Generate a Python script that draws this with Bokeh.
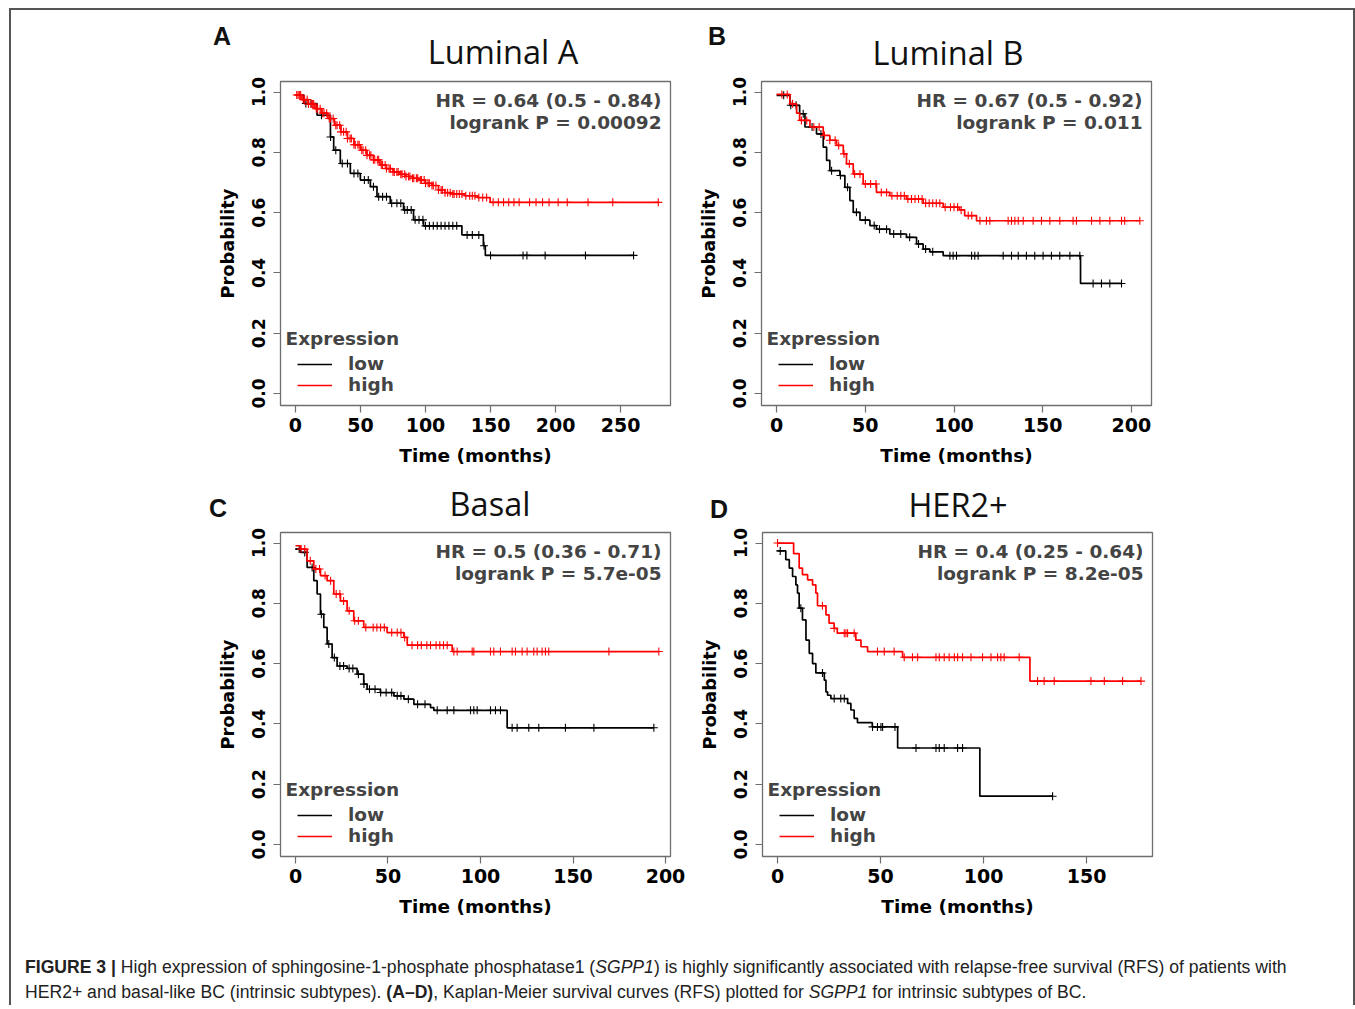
import numpy as np
from bokeh.plotting import figure
from bokeh.models import Legend, LegendItem, Range1d, Div, FixedTicker, PrintfTickFormatter, Label
from bokeh.layouts import column, row
from bokeh.embed import file_html
from bokeh.resources import INLINE

# ---------------- data ----------------
titles = ["Luminal A", "Luminal B", "Basal", "HER2+"]
letters = ["A", "B", "C", "D"]
hr_texts = ["HR = 0.64 (0.5 - 0.84)", "HR = 0.67 (0.5 - 0.92)",
            "HR = 0.5 (0.36 - 0.71)", "HR = 0.4 (0.25 - 0.64)"]
p_texts = ["logrank P = 0.00092", "logrank P = 0.011",
           "logrank P = 5.7e-05", "logrank P = 8.2e-05"]
x_ticks_A = [0, 50, 100, 150, 200, 250]
x_ticks_B = [0, 50, 100, 150, 200]
x_ticks_C = [0, 50, 100, 150, 200]
x_ticks_D = [0, 50, 100, 150]
y_ticks = [0.0, 0.2, 0.4, 0.6, 0.8, 1.0]
legend_title = "Expression"
legend_labels = ["low", "high"]

# Panel A (Luminal A)
a_low_t = [0, 6.4, 16.6, 26.9, 29.4, 34.5, 42.2, 49.9, 57.6, 62.7, 72.9, 83.1, 90.8, 98.5, 128, 144.5, 146]
a_low_s = [0.99, 0.962, 0.923, 0.851, 0.807, 0.763, 0.730, 0.708, 0.686, 0.653, 0.631, 0.609, 0.576, 0.556, 0.526, 0.49, 0.458]
a_low_c = [8, 12, 20, 27, 31, 36, 40, 45, 48, 53, 56, 60, 64, 67, 70, 74, 78, 81, 84, 86, 89, 92, 95,
           98, 100, 103, 106, 109, 112, 115, 118, 121, 124, 132, 136, 141, 145, 150, 175, 178, 192, 223, 260]
a_high_t = [0, 5, 10, 15, 20, 25, 30, 35, 40, 45, 50, 55, 60, 65, 70, 75, 80, 85, 90, 95, 100, 105,
            110, 115, 120, 130, 140, 149.7]
a_high_s = [0.99, 0.975, 0.96, 0.945, 0.93, 0.912, 0.89, 0.868, 0.846, 0.825, 0.807, 0.79, 0.775,
            0.758, 0.746, 0.735, 0.727, 0.72, 0.714, 0.708, 0.697, 0.69, 0.675, 0.666, 0.662, 0.656,
            0.65, 0.634]
a_high_c = [1, 2, 3, 4, 6, 7, 9, 10, 12, 13, 14, 16, 17, 19, 21, 22, 24, 26, 27, 29, 31, 32, 34, 35, 37,
            39, 40, 42, 43, 45, 46, 48, 49, 51, 52, 54, 55, 57, 58, 60, 61, 63, 64, 66, 67, 69, 70, 72,
            73, 75, 76, 78, 79, 81, 82, 84, 85, 87, 88, 90, 91, 93, 94, 96, 97, 99, 100, 102, 103, 105,
            106, 108, 110, 112, 113, 115, 117, 119, 121, 122, 124, 126, 128, 131, 134, 136, 138, 141,
            144, 147, 152, 156, 160, 164, 168, 172, 180, 185, 190, 195, 202, 209, 225, 244, 279]

# Panel B (Luminal B)
b_low_t = [0, 7.5, 13, 16, 22.5, 26.3, 28.2, 30, 35.7, 38.5, 41.3, 43.2, 47, 52.6, 56.3, 63.8, 73.2,
           78.9, 82.6, 86.4, 93.9, 171.3]
b_low_s = [0.989, 0.956, 0.928, 0.884, 0.861, 0.817, 0.773, 0.739, 0.723, 0.684, 0.64, 0.601, 0.575,
           0.557, 0.545, 0.529, 0.518, 0.496, 0.479, 0.47, 0.457, 0.365]
b_low_c = [4, 8, 11, 15, 20, 25, 31, 36, 40, 45, 50, 55, 58, 62, 66, 70, 75, 80, 84, 88, 97.7, 99.5,
           101.4, 109.9, 111.7, 113.6, 127.7, 132.4, 136.2, 140.8, 145.5, 150.2, 154.9, 159.6, 165.3,
           170.9, 178.4, 183.1, 187.8, 194.4]
b_high_t = [0, 7.5, 11.3, 13, 18.8, 26.3, 30, 33.8, 37.6, 39.4, 43.2, 48.8, 56.3, 63.8, 73.2, 82.6,
            93.9, 103, 106, 112.7]
b_high_s = [0.992, 0.961, 0.93, 0.906, 0.884, 0.856, 0.84, 0.823, 0.795, 0.762, 0.728, 0.695, 0.667,
            0.656, 0.645, 0.631, 0.618, 0.609, 0.59, 0.573]
b_high_c = [3, 6, 9, 14, 17, 21, 24, 27, 30, 33, 35, 38, 41, 44, 47, 50, 53, 56, 59, 62, 65, 68, 70, 72,
            74, 76, 78, 80, 82, 84, 86, 88, 90, 92, 95, 98, 100, 102, 104, 108, 110, 114.6, 118.3,
            120.2, 130.5, 132.4, 134.3, 136.2, 139, 144.6, 149.3, 154, 159.6, 167.1, 169, 177.5, 182.2,
            187.8, 194.4, 196.2, 204.7]

# Panel C (Basal)
c_low_t = [0, 2.7, 6.3, 9.9, 11.7, 13.5, 15.3, 17.1, 19.8, 22.5, 27.9, 33.3, 36.9, 38.7, 45.9, 53.2,
           58.6, 64, 73, 74.8, 114.4]
c_low_s = [0.98, 0.969, 0.919, 0.875, 0.831, 0.764, 0.72, 0.665, 0.62, 0.592, 0.584, 0.565, 0.532,
           0.515, 0.504, 0.493, 0.482, 0.465, 0.454, 0.445, 0.387]
c_low_c = [2, 5, 9, 14, 18, 21, 24, 26, 29, 31, 34, 37, 40, 43, 46, 49, 52, 55, 57, 61, 66, 70, 76.6,
           82, 85.6, 94.6, 96.4, 98.2, 105.4, 108.1, 110.8, 117.1, 119.8, 126.1, 131.5, 145.9, 161.3,
           193.7]
c_high_t = [0, 2.7, 6.3, 9.9, 13.5, 17.1, 20.7, 24.3, 27.9, 31.5, 36.9, 49.5, 58.6, 60.4, 84.7]
c_high_s = [0.991, 0.98, 0.941, 0.914, 0.892, 0.875, 0.831, 0.808, 0.775, 0.742, 0.72, 0.703, 0.687,
            0.661, 0.64]
c_high_c = [3, 5, 8, 11, 13, 16, 19, 22, 24, 26, 29, 32, 34, 38, 42, 44, 46, 48, 52, 55, 57, 59, 63, 66,
            68, 71, 73, 76, 78, 80, 82, 85.6, 87.4, 95.5, 96.4, 105.4, 107.2, 110.8, 117.1, 118.9,
            122.5, 125.2, 128.8, 130.6, 133.3, 135.1, 136.9, 169.4, 196.4]

# Panel D (HER2+)
d_low_t = [0, 4, 5.7, 7.3, 8.9, 9.7, 10.5, 12.1, 13.8, 15.4, 17, 18.6, 22.7, 23.5, 24.3, 25.9, 34,
           35.6, 37.2, 38.8, 46, 58.3, 98.2]
d_low_s = [0.974, 0.945, 0.917, 0.889, 0.861, 0.834, 0.784, 0.745, 0.678, 0.634, 0.6, 0.569, 0.545,
           0.506, 0.495, 0.484, 0.468, 0.446, 0.418, 0.404, 0.39, 0.32, 0.16]
d_low_c = [1.3, 11.3, 21.8, 27.5, 30.7, 32.4, 46.1, 48.5, 50.2, 51, 57, 67.2, 76.9, 78.5, 80.9, 87.4,
           89.8, 133.5]
d_high_t = [0, 7.8, 10.5, 12.1, 14.6, 17, 18.6, 19.4, 23.5, 25, 27.5, 29, 38, 40.5, 43.7, 60.7, 122.5]
d_high_s = [1.0, 0.965, 0.917, 0.895, 0.878, 0.861, 0.834, 0.792, 0.762, 0.734, 0.717, 0.701, 0.678,
            0.656, 0.64, 0.621, 0.542]
d_high_c = [0, 21.8, 27.5, 32.4, 33.2, 34, 37.2, 48.5, 51.8, 56.6, 61.5, 65.5, 68, 76.9, 78.5, 80.9,
            83.3, 85.8, 87.4, 89.8, 93.9, 99.5, 103.6, 106.8, 108.4, 110, 117.3, 126.2, 129.4, 134.3,
            152.1, 158.6, 167.5, 176.4]

caption_html = ("<b>FIGURE 3 |</b> High expression of sphingosine-1-phosphate phosphatase1 (<i>SGPP1</i>) "
                "is highly significantly associated with relapse-free survival (RFS) of patients with<br>"
                "HER2+ and basal-like BC (intrinsic subtypes). <b>(A&ndash;D)</b>, Kaplan-Meier survival "
                "curves (RFS) plotted for <i>SGPP1</i> for intrinsic subtypes of BC.")

# ---------------- styling / layout ----------------
AX_FONT = "DejaVu Sans"
FS_H = "18.5px"     # horizontal texts
YR = (-0.04, 1.035)
FW, FH = 390, 324
LOW_C, HIGH_C = "#000000", "#ff0000"
FRAME_C = "#6e6e6e"


def km_xy(t, s, c):
    t = list(t)
    s = list(s)
    end = max(c) if max(c) > t[-1] else t[-1]
    xs = t + [end]
    ys = s + [s[-1]]
    idx = np.searchsorted(np.array(t), np.array(c), side="right") - 1
    cy = [s[i] for i in idx]
    return xs, ys, cy


def panel(i, xr, xticks, low, high, borders):
    bl, br, bt, bb = borders
    p = figure(frame_width=FW, frame_height=FH, x_range=Range1d(*xr), y_range=Range1d(*YR),
               output_backend="svg", toolbar_location=None, title=None,
               min_border_left=bl, min_border_right=br, min_border_top=bt, min_border_bottom=bb)
    sx = FW / (xr[1] - xr[0])
    sy = FH / (YR[1] - YR[0])
    p.grid.visible = False
    p.outline_line_color = FRAME_C
    p.outline_line_width = 1.3
    p.background_fill_color = "white"
    p.border_fill_color = None

    for ax in (p.xaxis[0], p.yaxis[0]):
        ax.axis_line_color = None
        ax.major_tick_line_color = FRAME_C
        ax.major_tick_line_width = 1.2
        ax.major_tick_out = 7
        ax.major_tick_in = 0
        ax.minor_tick_line_color = None
        ax.major_label_text_font = AX_FONT
        ax.major_label_text_font_style = "bold"
        ax.major_label_text_color = "black"
        ax.axis_label_text_font = AX_FONT
        ax.axis_label_text_font_style = "bold"
        ax.axis_label_text_color = "black"
    p.xaxis.major_label_text_font_size = "19px"
    p.yaxis.major_label_text_font_size = "17px"
    p.xaxis.axis_label_text_font_size = FS_H
    p.yaxis.axis_label_text_font_size = "17.8px"
    p.xaxis.ticker = FixedTicker(ticks=xticks)
    p.yaxis.ticker = FixedTicker(ticks=y_ticks)
    p.yaxis.formatter = PrintfTickFormatter(format="%.1f")
    p.yaxis.major_label_orientation = "vertical"
    p.xaxis.axis_label = "Time (months)"
    p.yaxis.axis_label = "Probability"
    p.xaxis.major_label_standoff = 5
    p.xaxis.axis_label_standoff = 10
    p.yaxis.major_label_standoff = 8
    p.yaxis.axis_label_standoff = 12

    rends = []
    for (t, s, c), col in ((low, LOW_C), (high, HIGH_C)):
        xs, ys, cy = km_xy(t, s, c)
        r = p.step(xs, ys, mode="after", line_color=col, line_width=1.7)
        p.scatter(c, cy, marker="cross", size=8, line_color=col, line_width=1.1)
        rends.append(r)

    leg = Legend(items=[LegendItem(label=legend_labels[0], renderers=[rends[0]]),
                        LegendItem(label=legend_labels[1], renderers=[rends[1]])],
                 location=(17, 10), padding=0, margin=0, spacing=0,
                 glyph_width=35, glyph_height=20, label_height=20, label_standoff=16,
                 border_line_color=None, background_fill_alpha=0,
                 label_text_font=AX_FONT, label_text_font_style="bold", label_text_font_size=FS_H)
    p.add_layout(leg)

    def dx(px):
        return xr[0] + px / sx

    def dy_top(px_down):
        return YR[1] - px_down / sy

    p.add_layout(Label(x=dx(5), y=YR[0] + 67 / sy, text=legend_title, text_font=AX_FONT,
                       text_font_style="bold", text_font_size=FS_H, text_baseline="middle",
                       text_align="left"))
    p.add_layout(Label(x=dx(FW - 9), y=dy_top(19), text=hr_texts[i], text_font=AX_FONT,
                       text_font_style="bold", text_font_size=FS_H, text_baseline="middle",
                       text_align="right"))
    p.add_layout(Label(x=dx(FW - 9), y=dy_top(41), text=p_texts[i], text_font=AX_FONT,
                       text_font_style="bold", text_font_size=FS_H, text_baseline="middle",
                       text_align="right"))
    return p


def header(items, height):
    spans = []
    for txt, cx, cy, kind in items:
        if kind == "letter":
            font = "font-family:'Liberation Sans',Arial,sans-serif;font-weight:bold;font-size:25px;"
        else:
            font = "font-family:'Open Sans',sans-serif;font-weight:normal;font-size:32.5px;"
        spans.append(f"<span style=\"position:absolute;left:{cx}px;top:{cy}px;"
                     f"transform:translate(-50%,-50%);line-height:1;white-space:nowrap;color:#111;{font}\">"
                     f"{txt}</span>")
    html = f"<div style=\"position:relative;width:1340px;height:{height}px;\">" + "".join(spans) + "</div>"
    return Div(text=html, width=1340, height=height, margin=0)


pA = panel(0, (-11.5, 288.4), x_ticks_A, (a_low_t, a_low_s, a_low_c), (a_high_t, a_high_s, a_high_c),
           (280, 19, 12, 66))
pB = panel(1, (-8.5, 211.3), x_ticks_B, (b_low_t, b_low_s, b_low_c), (b_high_t, b_high_s, b_high_c),
           (72, 204, 13, 65))
pC = panel(2, (-8.1, 202.7), x_ticks_C, (c_low_t, c_low_s, c_low_c), (c_high_t, c_high_s, c_high_c),
           (280, 20, 10, 79))
pD = panel(3, (-7.3, 182.0), x_ticks_D, (d_low_t, d_low_s, d_low_c), (d_high_t, d_high_s, d_high_c),
           (72, 203, 9, 80))

head1 = header([(letters[0], 222, 36, "letter"), (titles[0], 503, 52, "title"),
                (letters[1], 717, 36, "letter"), (titles[1], 948, 53, "title")], 68)
head2 = header([(letters[2], 218, 38, "letter"), (titles[2], 490, 34, "title"),
                (letters[3], 719, 39, "letter"), (titles[3], 958, 35, "title")], 52)

cap = Div(text=caption_html, width=1340, height=70, margin=0,
          styles={"font-family": "'Liberation Sans', Arial, sans-serif",
                  "font-size": "17.6px", "line-height": "25px", "color": "#222",
                  "padding-top": "20px", "padding-left": "25px"})

frame_bg = ("linear-gradient(#555,#555) 9px 8px / 2px 100% no-repeat, "
            "linear-gradient(#555,#555) 9px 8px / 1346px 2px no-repeat, "
            "linear-gradient(#555,#555) 1353px 8px / 2px 100% no-repeat")
root = column(head1, row(pA, pB), head2, row(pC, pD), cap,
              styles={"background": frame_bg, "width": "1355px"})
open("out.html", "w").write(file_html(root, INLINE))
